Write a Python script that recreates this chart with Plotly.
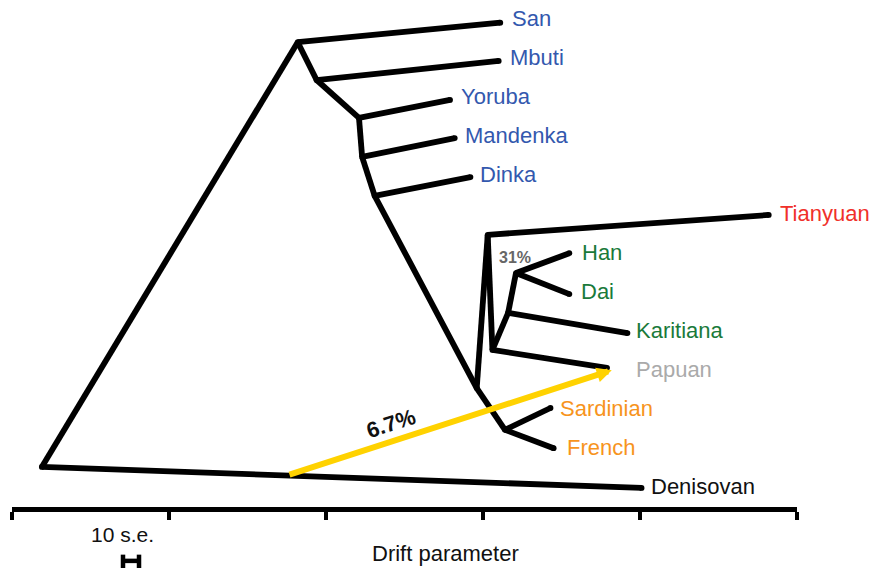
import plotly.graph_objects as go

# ---------------- data ----------------
# Tree nodes: drift parameter (x) and display row (y, leaves at integer rows)
node_names = ["root", "A", "B", "C", "D", "E", "F", "G", "H", "I", "L", "K",
              "San", "Mbuti", "Yoruba", "Mandenka", "Dinka", "Tianyuan", "Han", "Dai",
              "Karitiana", "Papuan", "Sardinian", "French", "Denisovan"]
node_drift = [0.019, 0.182, 0.194, 0.221, 0.223, 0.231, 0.296, 0.314, 0.303, 0.306, 0.316, 0.321,
              0.311, 0.310, 0.279, 0.282, 0.292, 0.482, 0.355, 0.355,
              0.392, 0.379, 0.343, 0.345, 0.401]
node_row = [11.51, 0.62, 1.59, 2.56, 3.56, 4.56, 9.49, 10.56, 5.56, 8.51, 7.56, 6.54,
            0.12, 1.10, 2.10, 3.08, 4.08, 5.05, 6.03, 7.08,
            8.08, 8.97, 10.0, 11.03, 12.05]

edges = [("root", "A"), ("root", "Denisovan"), ("A", "San"), ("A", "B"), ("B", "Mbuti"),
         ("B", "C"), ("C", "Yoruba"), ("C", "D"), ("D", "Mandenka"), ("D", "E"),
         ("E", "Dinka"), ("E", "F"), ("F", "G"), ("G", "Sardinian"), ("G", "French"),
         ("F", "H"), ("H", "Tianyuan"), ("H", "I"), ("I", "Papuan"), ("I", "L"),
         ("L", "Karitiana"), ("L", "K"), ("K", "Han"), ("K", "Dai")]

leaf_labels = ["San", "Mbuti", "Yoruba", "Mandenka", "Dinka", "Tianyuan", "Han", "Dai",
               "Karitiana", "Papuan", "Sardinian", "French", "Denisovan"]
leaf_rows = [0, 1, 2, 3, 4, 5, 6, 7, 8, 9, 10, 11, 12]
leaf_label_drift = [0.317, 0.316, 0.285, 0.287, 0.297, 0.488, 0.362, 0.361,
                    0.396, 0.396, 0.348, 0.352, 0.406]
leaf_colors = ["#3358AE"] * 5 + ["#F0302A"] + ["#1A7A3A"] * 3 + ["#AAAAAA"] + ["#F7941D"] * 2 + ["#111111"]

# Admixture events
admix_from = (0.1758, 11.72)    # on Denisovan branch
admix_to = (0.382, 9.03)        # into Papuan
admix_label = "6.7%"
admix_label_pos = (0.2414, 10.41)
tianyuan_admix_label = "31%"
tianyuan_admix_pos = (0.3204, 6.13)

axis_ticks = [0, 0.1, 0.2, 0.3, 0.4, 0.5]
scale_bar_x = (0.0707, 0.0809)  # 10 s.e.
scale_bar_row = 13.92

# ---------------- figure ----------------
pos = {n: (x, y) for n, x, y in zip(node_names, node_drift, node_row)}
ex, ey = [], []
for a, b in edges:
    ex += [pos[a][0], pos[b][0], None]
    ey += [pos[a][1], pos[b][1], None]

FONT = "Liberation Sans, Arial, sans-serif"
fig = go.Figure()
fig.add_trace(go.Scatter(x=ex, y=ey, mode="lines",
                         line=dict(color="black", width=5.8), hoverinfo="skip"))
fig.add_trace(go.Scatter(x=node_drift, y=node_row, mode="markers",
                         marker=dict(color="black", size=5.8, line=dict(width=0)),
                         hoverinfo="skip"))

# scale bar (H glyph)
sx0, sx1 = scale_bar_x
fig.add_trace(go.Scatter(x=[sx0, sx1, None, sx0, sx0, None, sx1, sx1],
                         y=[scale_bar_row, scale_bar_row, None,
                            scale_bar_row - 0.16, scale_bar_row + 0.2, None,
                            scale_bar_row - 0.16, scale_bar_row + 0.2],
                         mode="lines", line=dict(color="black", width=4.5), hoverinfo="skip"))

# drift axis (free x axis)
fig.add_trace(go.Scatter(x=[0, 0.5], y=[13, 13], xaxis="x2", mode="markers",
                         marker=dict(opacity=0), hoverinfo="skip"))

for lab, r, lx, c in zip(leaf_labels, leaf_rows, leaf_label_drift, leaf_colors):
    fig.add_annotation(x=lx, y=r, text=lab, showarrow=False, xanchor="left", yanchor="middle",
                       font=dict(family=FONT, size=22, color=c))

fig.add_annotation(x=admix_to[0], y=admix_to[1], ax=admix_from[0], ay=admix_from[1],
                   xref="x", yref="y", axref="x", ayref="y", text="",
                   showarrow=True, arrowhead=2, arrowsize=0.5, arrowwidth=6,
                   arrowcolor="#FFD200", standoff=0, startstandoff=0)
fig.add_annotation(x=admix_label_pos[0], y=admix_label_pos[1], text="<b>%s</b>" % admix_label,
                   showarrow=False, textangle=-18,
                   font=dict(family=FONT, size=22, color="#111111"))
fig.add_annotation(x=tianyuan_admix_pos[0], y=tianyuan_admix_pos[1],
                   text="<b>%s</b>" % tianyuan_admix_label, showarrow=False,
                   font=dict(family=FONT, size=16, color="#666666"))
fig.add_annotation(x=0.0702, y=13.25, text="10 s.e.", showarrow=False,
                   font=dict(family=FONT, size=21, color="#111111"))
fig.add_annotation(x=0.2758, y=13.74, text="Drift parameter", showarrow=False,
                   font=dict(family=FONT, size=22, color="#111111"))

W, H = 871, 568
fig.update_layout(
    width=W, height=H, margin=dict(l=0, r=0, t=0, b=0),
    paper_bgcolor="white", plot_bgcolor="rgba(0,0,0,0)", showlegend=False,
    xaxis=dict(range=[-12 / 1570, 859 / 1570], visible=False, domain=[0, 1]),
    yaxis=dict(range=[(H - 18) / 39, -18 / 39], visible=False),
    xaxis2=dict(range=[0, 0.5], domain=[12 / W, 797 / W], anchor="free",
                position=(H - 509) / H, showline=True, linewidth=4.5, linecolor="black",
                ticks="outside", ticklen=8, tickwidth=4, tickcolor="black",
                tickvals=axis_ticks, showticklabels=False, showgrid=False, zeroline=False),
)
fig.write_html("out.html", config={"displayModeBar": False},
               post_script="document.body.style.margin='0';")
